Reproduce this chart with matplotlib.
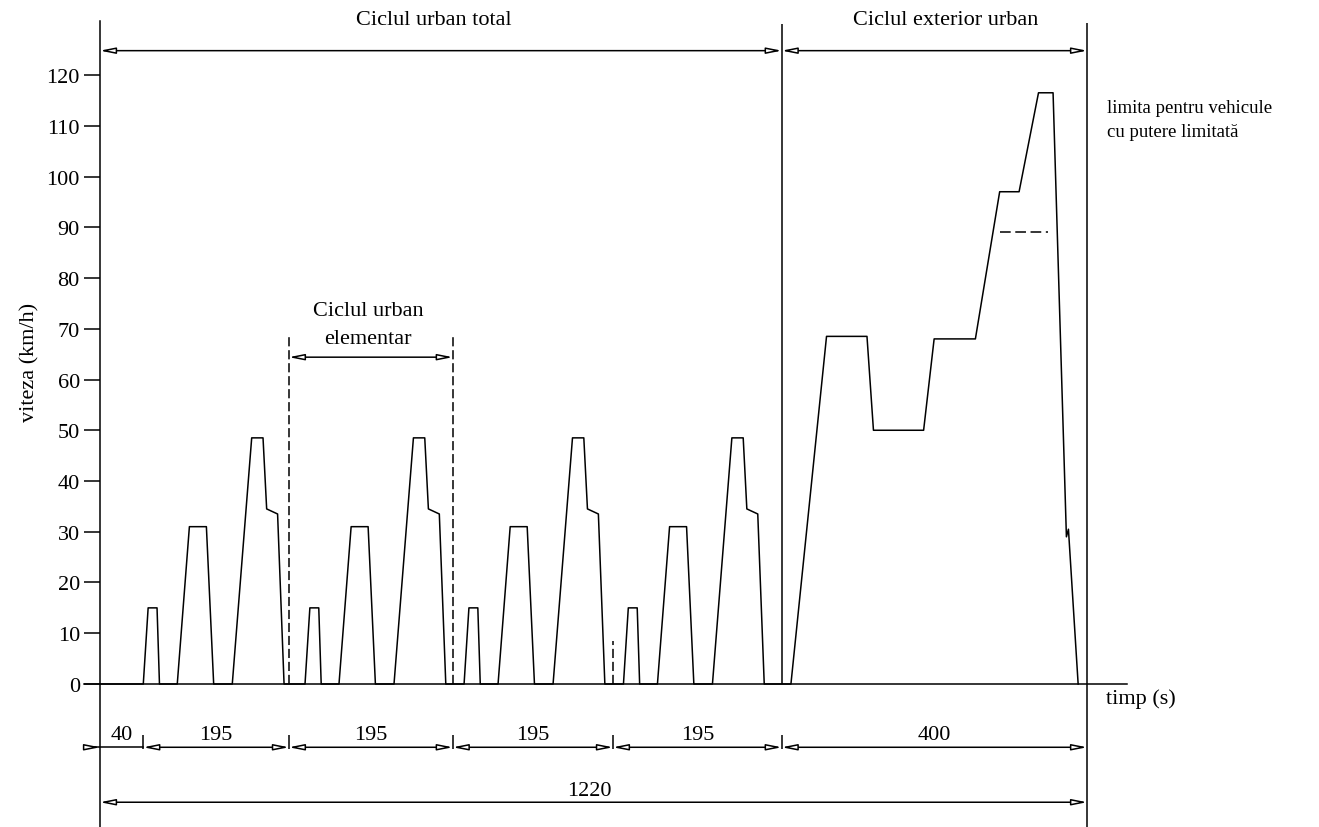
import matplotlib
matplotlib.use('Agg')
import matplotlib.pyplot as plt

# ciclul urban elementar (timp relativ la inceputul ciclului, s) - citit de pe desen
cycle_t = [0, 6, 17, 20, 42, 57, 78, 87, 110, 134, 148, 152.5, 166, 174]
cycle_v = [0, 15, 15, 0, 0, 31, 31, 0, 0, 48.5, 48.5, 34.5, 33.5, 0]
cycle_start = [53.5, 253.4, 450, 647]

# ciclul exterior urban
eudc_t = [854, 898, 948, 956, 1018, 1031, 1082, 1112, 1136, 1160, 1178, 1194.5, 1197, 1209]
eudc_v = [0, 68.5, 68.5, 50, 50, 68, 68, 97, 97, 116.5, 116.5, 29, 30.5, 0]

# limita pentru vehicule cu putere limitata
limit_t = [1112, 1172]
limit_v = [89, 89]

# cote (limitele segmentelor pe desen)
seg_edges = [0, 53.5, 233.5, 436, 634, 842.6, 1220]
seg_labels = ['40', '195', '195', '195', '195', '400']
total_label = '1220'

yticks = list(range(0, 130, 10))

FONT = 'Liberation Serif'
FS = 16
LW = 1.1


def dim_arrow(ax, x0, x1, y, style='<|-|>'):
    ax.annotate('', xy=(x1, y), xytext=(x0, y),
                arrowprops=dict(arrowstyle=style + ',head_length=0.9,head_width=0.18',
                                fc='white', ec='black', lw=LW,
                                shrinkA=0, shrinkB=0, mutation_scale=10))


fig = plt.figure(figsize=(13.19, 8.28), dpi=100)
ax = fig.add_axes([0, 0, 1, 1])
ax.set_xlim(-123.6, 1506.7)
ax.set_ylim(-28.18, 134.98)

# axe
for s in ['top', 'right']:
    ax.spines[s].set_visible(False)
ax.spines['left'].set_position(('data', 0))
ax.spines['left'].set_bounds(-28.18, 130.6)
ax.spines['bottom'].set_position(('data', 0))
ax.spines['bottom'].set_bounds(-20, 1269)
for s in ['left', 'bottom']:
    ax.spines[s].set_linewidth(LW)
ax.set_xticks([])
ax.set_yticks(yticks)
ax.set_yticklabels([str(v) for v in yticks], fontfamily=FONT, fontsize=FS)
ax.tick_params(axis='y', direction='out', length=11.5, width=LW, pad=3)

# profilul de viteza
t = [0]
v = [0]
for s in cycle_start:
    t += [s + x for x in cycle_t]
    v += cycle_v
t += eudc_t
v += eudc_v
ax.plot(t, v, color='black', lw=LW)
ax.plot(limit_t, limit_v, color='black', lw=LW, dashes=(7, 3))

# linii verticale
ax.vlines(seg_edges[-1], -28.18, 130.2, color='black', lw=LW)
ax.vlines(seg_edges[5], 0, 130.0, color='black', lw=LW)
ax.vlines([seg_edges[2], seg_edges[3]], 0, 69, color='black', lw=LW, linestyles=(0, (6, 2.5)))
ax.vlines(seg_edges[4], 0, 8.5, color='black', lw=LW, linestyles=(0, (6, 2.5)))

# cote sus
y_top = 124.8
dim_arrow(ax, seg_edges[0], seg_edges[5], y_top)
dim_arrow(ax, seg_edges[5], seg_edges[6], y_top)
ax.text(413, 130.9, 'Ciclul urban total', fontfamily=FONT, fontsize=FS, ha='center', va='center')
ax.text(1045.7, 130.9, 'Ciclul exterior urban', fontfamily=FONT, fontsize=FS, ha='center', va='center')

# ciclul elementar
dim_arrow(ax, seg_edges[2], seg_edges[3], 64.4)
ax.text(331.3, 73.6, 'Ciclul urban', fontfamily=FONT, fontsize=FS, ha='center', va='center')
ax.text(331.3, 68.0, 'elementar', fontfamily=FONT, fontsize=FS, ha='center', va='center')

# cote jos
y_seg = -12.47
ax.plot([-20, seg_edges[1]], [y_seg, y_seg], color='black', lw=LW)
dim_arrow(ax, -20, 0, y_seg, style='-|>')
for i in range(1, len(seg_edges) - 1):
    dim_arrow(ax, seg_edges[i], seg_edges[i + 1], y_seg)
ax.vlines(seg_edges[1:-1], -12.8, -10.1, color='black', lw=LW)
for i, lab in enumerate(seg_labels):
    ax.text((seg_edges[i] + seg_edges[i + 1]) / 2, -10.0, lab, fontfamily=FONT, fontsize=FS,
            ha='center', va='center')

y_tot = -23.3
dim_arrow(ax, seg_edges[0], seg_edges[-1], y_tot)
ax.text(605, -20.9, total_label, fontfamily=FONT, fontsize=FS, ha='center', va='center')

# etichete
ax.text(1243.5, -2.76, 'timp (s)', fontfamily=FONT, fontsize=FS, ha='left', va='center')
ax.text(-86.5, 63.6, 'viteza (km/h)', fontfamily=FONT, fontsize=FS, ha='center', va='center',
        rotation=90)
ax.text(1244.3, 113.6, 'limita pentru vehicule', fontfamily=FONT, fontsize=13.5, ha='left', va='center')
ax.text(1244.3, 108.8, 'cu putere limitată', fontfamily=FONT, fontsize=13.5, ha='left', va='center')

fig.savefig('out.png', dpi=100)
